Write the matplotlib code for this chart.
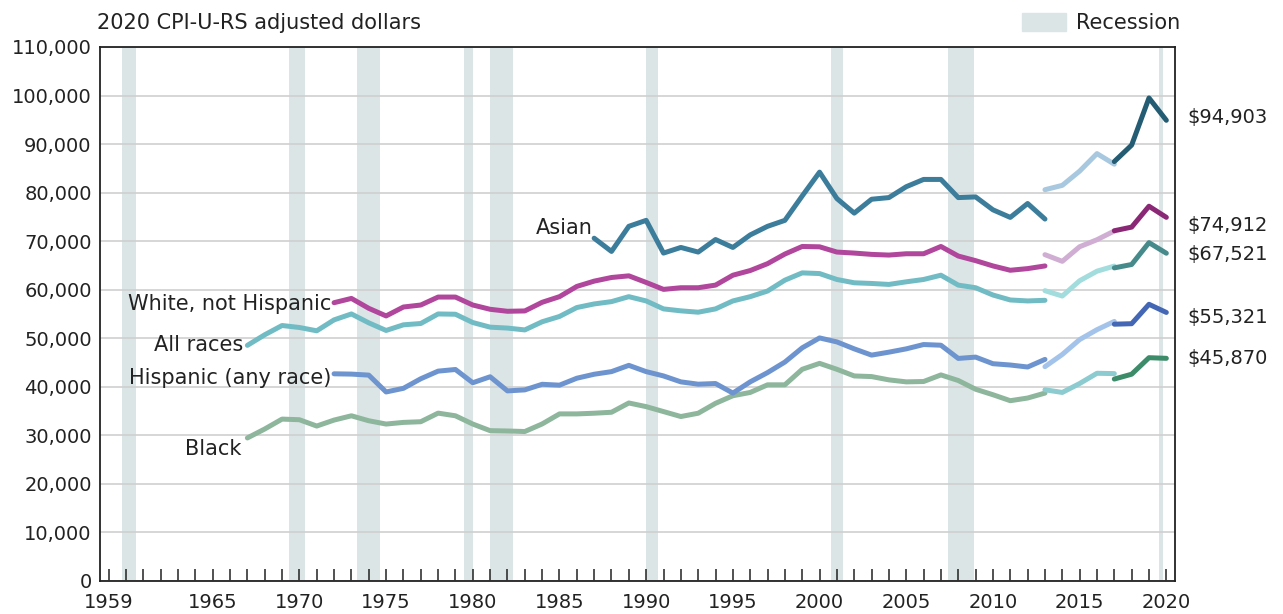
import matplotlib
matplotlib.use("Agg")
import matplotlib.pyplot as plt
from matplotlib.patches import Patch

plt.rcParams['font.family'] = ['DejaVu Sans']

# years for each part of the series (2013 and 2017 appear twice: survey changes)
years_old_all = list(range(1967, 2014))
years_old_hw = list(range(1972, 2014))
years_old_asian = list(range(1987, 2014))
years_mid = list(range(2013, 2018))
years_new = list(range(2017, 2021))

all_old = [48540, 50720, 52630, 52220, 51540, 53790, 55010, 53180, 51610, 52770,
           53040, 55010, 54950, 53240, 52290, 52100, 51720, 53400, 54490, 56330,
           57070, 57550, 58570, 57690, 56050, 55650, 55370, 56050, 57690, 58570,
           59730, 61970, 63470, 63330, 62110, 61430, 61290, 61090, 61630, 62110,
           62990, 60950, 60410, 58910, 57890, 57690, 57820]
all_mid = [59800, 58700, 61850, 63820, 64870]
all_new = [64500, 65200, 69700, 67521]

white_old = [57330, 58210, 56170, 54600, 56440, 56850, 58490, 58490, 56850, 55970,
             55560, 55630, 57410, 58570, 60680, 61770, 62520, 62860, 61500, 60070,
             60410, 60410, 60950, 62990, 63950, 65370, 67350, 68910, 68840, 67760,
             67550, 67280, 67140, 67410, 67410, 68910, 66940, 65990, 64900, 64010,
             64350, 64900]
white_mid = [67220, 65850, 68860, 70300, 72100]
white_new = [72150, 72900, 77200, 74912]

hisp_old = [42680, 42620, 42410, 38940, 39690, 41660, 43230, 43570, 40840, 42070,
            39160, 39370, 40520, 40340, 41770, 42590, 43130, 44420, 43130, 42240,
            41020, 40540, 40680, 38710, 41020, 42930, 45100, 48030, 50070, 49250,
            47820, 46530, 47140, 47820, 48710, 48570, 45850, 46120, 44760, 44490,
            44080, 45650]
hisp_mid = [44150, 46670, 49730, 51770, 53470]
hisp_new = [52900, 53000, 57000, 55321]

black_old = [29470, 31310, 33350, 33220, 31920, 33150, 34030, 33010, 32330, 32670,
             32810, 34580, 34030, 32330, 30970, 30900, 30790, 32350, 34420, 34420,
             34560, 34760, 36670, 35920, 34900, 33880, 34560, 36600, 38160, 38840,
             40410, 40410, 43610, 44830, 43610, 42240, 42110, 41430, 41020, 41090,
             42450, 41300, 39500, 38370, 37140, 37690, 38710]
black_mid = [39390, 38840, 40680, 42790, 42720]
black_new = [41600, 42600, 46000, 45870]

asian_old = [70610, 67890, 73060, 74290, 67550, 68710, 67760, 70340, 68710, 71290,
             73060, 74290, 79320, 84220, 78780, 75780, 78640, 78980, 81220, 82720,
             82720, 78980, 79120, 76460, 74900, 77760, 74560]
asian_mid = [80600, 81500, 84430, 88040, 85860]
asian_new = [86400, 89800, 99500, 94903]

recessions = [(1960.25, 1961.08), (1969.92, 1970.83), (1973.83, 1975.17),
              (1980.0, 1980.5), (1981.5, 1982.83), (1990.5, 1991.17),
              (2001.17, 2001.83), (2007.92, 2009.42), (2020.08, 2020.33)]

tick_years = [1959, 1965, 1970, 1975, 1980, 1985, 1990, 1995, 2000, 2005, 2010, 2015, 2020]

rec_color = '#dce5e6'
txt = '#222222'
lw = 3.6
fs_num = 14   # numbers
fs_txt = 15   # words

fig = plt.figure(figsize=(12.83, 6.14), dpi=100)
ax = fig.add_axes([100 / 1283, 1 - 581 / 614, 1075 / 1283, 534 / 614])

for a, b in recessions:
    ax.axvspan(a, b, color=rec_color, lw=0, zorder=0)

ax.set_xlim(1959, 2021)
ax.set_ylim(0, 110000)
ax.set_yticks(range(0, 110001, 10000))
ax.set_yticklabels([f'{v:,}' for v in range(0, 110001, 10000)])
ax.yaxis.grid(True, color='#cfcfcf', lw=1.2, zorder=1)
ax.tick_params(axis='y', length=0, pad=6, labelsize=fs_num, labelcolor=txt)

all_years = list(range(1959, 2021))
ax.set_xticks([y + 0.5 for y in all_years])
ax.set_xticklabels([str(y) if y in tick_years else '' for y in all_years])
ax.tick_params(axis='x', direction='in', length=9, width=1.1, color=txt,
               pad=9, labelsize=fs_num, labelcolor=txt)
for s in ax.spines.values():
    s.set_color(txt)
    s.set_linewidth(1.3)


def seg(yrs, vals, color):
    ax.plot([y + 0.5 for y in yrs], vals, color=color, lw=lw,
            solid_capstyle='round', solid_joinstyle='round', zorder=3)


seg(years_old_all, black_old, '#8db69c')
seg(years_mid, black_mid, '#8ccbd0')
seg(years_new, black_new, '#3c8c6a')

seg(years_old_hw, hisp_old, '#6e94d0')
seg(years_mid, hisp_mid, '#a3c3ea')
seg(years_new, hisp_new, '#4467b5')

seg(years_old_all, all_old, '#71bcc4')
seg(years_mid, all_mid, '#a3dcdd')
seg(years_new, all_new, '#478a8c')

seg(years_old_hw, white_old, '#b1479c')
seg(years_mid, white_mid, '#d0aed3')
seg(years_new, white_new, '#8a2876')

seg(years_old_asian, asian_old, '#3c7d9c')
seg(years_mid, asian_mid, '#a8c8e0')
seg(years_new, asian_new, '#235c73')

# series labels at the start of each line
lab_kw = dict(textcoords='offset points', ha='right', va='center',
              fontsize=fs_txt, color=txt)
ax.annotate('Asian', (1987.5, asian_old[0]), xytext=(-1, 7), **lab_kw)
ax.annotate('White, not Hispanic', (1972.5, white_old[0]), xytext=(-2, -1), **lab_kw)
ax.annotate('All races', (1967.5, all_old[0]), xytext=(-3, 0), **lab_kw)
ax.annotate('Hispanic (any race)', (1972.5, hisp_old[0]), xytext=(-2, -3), **lab_kw)
ax.annotate('Black', (1967.5, black_old[0]), xytext=(-4, -8), **lab_kw)

# end values on the right
end_kw = dict(textcoords='offset points', ha='left', va='center',
              fontsize=fs_num, color=txt, annotation_clip=False)
ends = [(asian_new[-1], 2), (white_new[-1], -6), (all_new[-1], -1),
        (hisp_new[-1], -4), (black_new[-1], 0)]
for v, dy in ends:
    ax.annotate(f'${v:,}', (2021, v), xytext=(9, dy), **end_kw)

fig.text(97 / 1283, 1 - 23 / 614, '2020 CPI-U-RS adjusted dollars',
         fontsize=fs_txt, color=txt, va='center', ha='left')

fig.legend(handles=[Patch(color=rec_color, label='Recession')],
           loc='center right', bbox_to_anchor=(1180 / 1283, 1 - 23 / 614),
           frameon=False, fontsize=fs_txt, handlelength=2.15, handleheight=0.95,
           handletextpad=0.45, borderpad=0, borderaxespad=0, labelcolor=txt)

fig.savefig('out.png', dpi=100)
